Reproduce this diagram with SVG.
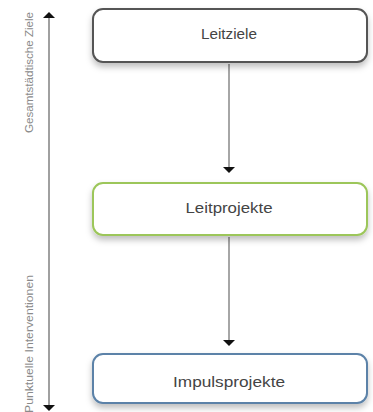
<svg xmlns="http://www.w3.org/2000/svg" width="373" height="412" viewBox="0 0 373 412">
<style>
.box{fill:#fff;stroke-width:2;filter:url(#sh)}
.lbl{font-family:"Liberation Sans",Arial,sans-serif;font-size:14px;fill:#444;text-anchor:middle}
.side{font-family:"Liberation Sans",Arial,sans-serif;font-size:10px;fill:#8a8a8a}
.conn{stroke:#888;stroke-width:1.5;fill:none}
.axis{stroke:#a0a0a0;stroke-width:2;fill:none}
</style>
<defs>
<filter id="sh" x="-10%" y="-20%" width="120%" height="160%">
<feDropShadow dx="0" dy="4" stdDeviation="3" flood-color="#000" flood-opacity="0.25"/>
</filter>
</defs>
<g id="axis">
<line class="axis" x1="49" y1="17" x2="49" y2="405"/>
<path d="M43,18 L55,18 L49,12 Z" fill="#111"/>
<path d="M43,405 L55,405 L49,411 Z" fill="#111"/>
<text class="side" transform="translate(33,133) rotate(-90)" textLength="121" lengthAdjust="spacingAndGlyphs">Gesamtstädtische Ziele</text>
<text class="side" transform="translate(33,413) rotate(-90)" textLength="138" lengthAdjust="spacingAndGlyphs">Punktuelle Interventionen</text>
</g>
<g id="connectors">
<line class="conn" x1="229" y1="64" x2="229" y2="167"/>
<path d="M223,167 L235,167 L229,173 Z" fill="#111"/>
<line class="conn" x1="229" y1="237" x2="229" y2="340"/>
<path d="M223,340 L235,340 L229,346 Z" fill="#111"/>
</g>
<g id="leitziele">
<rect class="box" x="93" y="9" width="274" height="53" rx="10" stroke="#555"/>
<text class="lbl" x="229" y="39" textLength="56" lengthAdjust="spacingAndGlyphs">Leitziele</text>
</g>
<g id="leitprojekte">
<rect class="box" x="93" y="183" width="274" height="52" rx="10" stroke="#9cc65a"/>
<text class="lbl" x="229" y="213" textLength="87" lengthAdjust="spacingAndGlyphs">Leitprojekte</text>
</g>
<g id="impulsprojekte">
<rect class="box" x="93" y="354" width="274" height="49" rx="10" stroke="#5b82a8"/>
<text class="lbl" x="229" y="387" textLength="112" lengthAdjust="spacingAndGlyphs">Impulsprojekte</text>
</g>
</svg>
